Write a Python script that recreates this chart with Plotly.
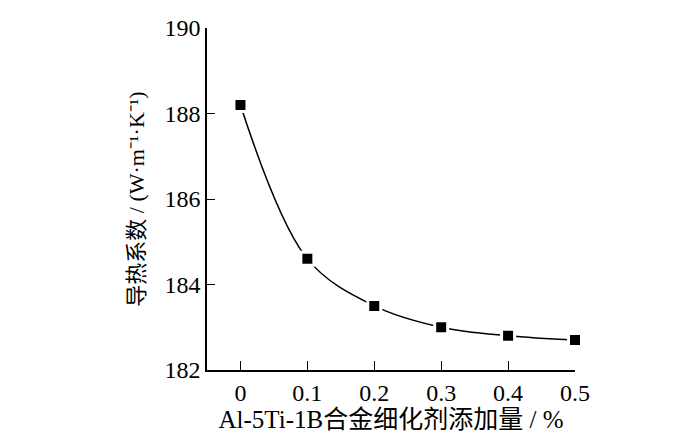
import plotly.graph_objects as go

# Al-5Ti-1B addition (%) vs thermal conductivity
addition = [0, 0.1, 0.2, 0.3, 0.4, 0.5]
conductivity = [188.2, 184.6, 183.5, 183.0, 182.8, 182.7]

x_ticks = [0, 0.1, 0.2, 0.3, 0.4, 0.5]
x_labels = ['0', '0.1', '0.2', '0.3', '0.4', '0.5']
y_ticks = [182, 184, 186, 188, 190]

font_family = 'Liberation Serif, Times New Roman, Noto Sans CJK SC'

fig = go.Figure()

fig.add_trace(go.Scatter(
    x=addition,
    y=conductivity,
    mode='lines+markers',
    line=dict(color='black', width=1.5, shape='spline', smoothing=1.0),
    marker=dict(symbol='square', size=13, color='black',
                line=dict(color='white', width=3)),
    showlegend=False,
    cliponaxis=False
))

# page body adds ~8px offset, so margins are shifted to compensate
fig.update_layout(
    width=700, height=446,
    margin=dict(l=199, r=133, t=20, b=84),
    paper_bgcolor='white',
    plot_bgcolor='white',
    font=dict(family=font_family, size=24, color='black'),
    xaxis=dict(
        range=[-0.05, 0.5],
        tickvals=x_ticks, ticktext=x_labels,
        ticks='inside', ticklen=9, tickwidth=1.2, tickcolor='black',
        showline=True, linecolor='black', linewidth=1.5,
        showgrid=False, zeroline=False, automargin=False,
        title=dict(text='Al-5Ti-1B合金细化剂添加量 / %', standoff=4,
                   font=dict(size=25)),
    ),
    yaxis=dict(
        range=[182, 190],
        tickvals=y_ticks,
        ticks='inside', ticklen=8, tickwidth=1.2, tickcolor='black',
        showline=True, linecolor='black', linewidth=1.5,
        showgrid=False, zeroline=False, automargin=False,
        title=dict(text='导热系数 / (W·m⁻¹·K⁻¹)', standoff=14,
                   font=dict(size=22)),
    ),
)

fig.write_html("out.html")
